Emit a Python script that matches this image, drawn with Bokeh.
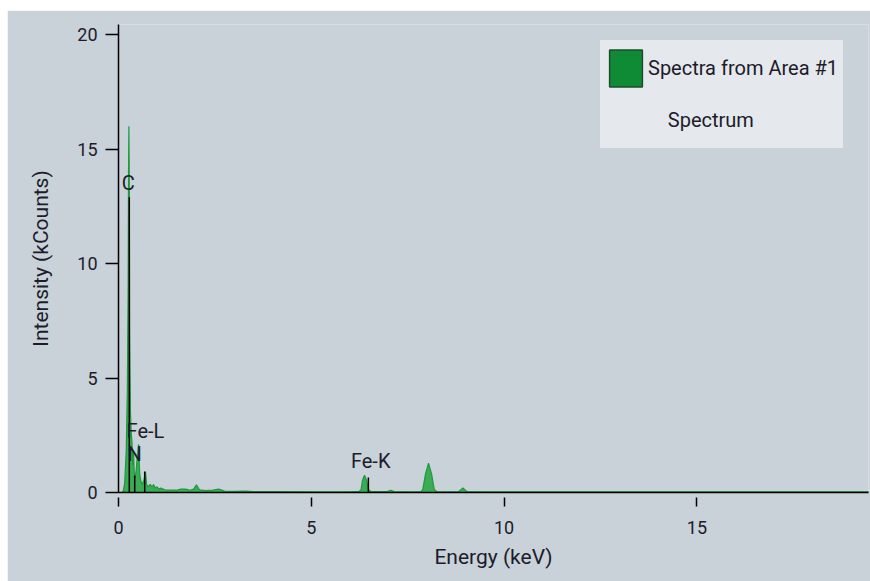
import numpy as np
from bokeh.plotting import figure
from bokeh.models import Range1d, Legend, LegendItem, ColumnDataSource, LabelSet, FixedTicker
from bokeh.core.properties import value
from bokeh.embed import file_html
from bokeh.resources import INLINE

# spectrum values (keV, kCounts)
energy = [0.00, 0.08, 0.12, 0.16, 0.20, 0.23, 0.25, 0.26, 0.27, 0.28, 0.29, 0.31, 0.33, 0.35, 0.37,
          0.39, 0.41, 0.43, 0.46, 0.49, 0.52, 0.55, 0.58, 0.62, 0.66, 0.70, 0.73, 0.77, 0.82, 0.87,
          0.91, 0.95, 1.00, 1.05, 1.10, 1.20, 1.35, 1.50, 1.62, 1.74, 1.86, 1.95, 2.02, 2.10, 2.25,
          2.45, 2.60, 2.75, 3.00, 3.30, 3.50, 4.00, 5.00, 6.00, 6.24, 6.29, 6.33, 6.38, 6.43, 6.48,
          6.55, 6.80, 6.97, 7.06, 7.15, 7.50, 7.84, 7.89, 7.96, 8.04, 8.12, 8.19, 8.26, 8.60, 8.82,
          8.93, 9.04, 9.50, 10.0, 12.0, 15.0, 19.5]
counts = [0.00, 0.00, 0.05, 0.40, 1.80, 4.50, 9.00, 14.0, 16.0, 13.5, 7.00, 3.50, 2.60, 2.20, 1.20,
          1.80, 0.80, 0.60, 1.00, 1.60, 2.10, 0.80, 0.50, 0.35, 0.55, 0.90, 0.35, 0.25, 0.35, 0.25,
          0.35, 0.20, 0.25, 0.15, 0.20, 0.12, 0.10, 0.10, 0.15, 0.15, 0.10, 0.15, 0.33, 0.12, 0.08,
          0.10, 0.15, 0.06, 0.05, 0.06, 0.04, 0.04, 0.03, 0.03, 0.05, 0.12, 0.55, 0.75, 0.55, 0.12,
          0.04, 0.04, 0.04, 0.10, 0.04, 0.03, 0.03, 0.12, 0.80, 1.28, 0.80, 0.12, 0.03, 0.03, 0.04,
          0.20, 0.04, 0.03, 0.03, 0.03, 0.03, 0.03]

# element marker lines
elements = ["C", "N", "Fe-L", "Fe-K"]
element_energy = [0.28, 0.42, 0.68, 6.48]
element_height = [12.9, 0.74, 0.92, 0.65]
label_energy = [0.25, 0.42, 0.70, 6.54]
label_height = [13.0, 1.15, 2.15, 0.85]

x_ticks = [0, 5, 10, 15]
y_ticks = [0, 5, 10, 15, 20]

series_label = "Spectra from Area #1"
sub_label = "Spectrum"

FONT = "Roboto"
TXT = "#1c1c2a"
BG = "#c9d1d9"

p = figure(width=863, height=571, output_backend="svg", toolbar_location=None,
           x_range=Range1d(0, 19.45), y_range=Range1d(0, 20.44),
           min_border_left=111, min_border_right=2, min_border_top=14, min_border_bottom=89)
p.margin = (10, 0, 0, 7)
p.background_fill_color = BG
p.border_fill_color = BG
p.outline_line_color = None
p.xgrid.visible = False
p.ygrid.visible = False

src = ColumnDataSource(dict(e=energy, c=counts, z=[0] * len(energy)))
p.varea(x="e", y1="z", y2="c", source=src, fill_color="#2ba646", fill_alpha=0.9)
p.line(x="e", y="c", source=src, line_color="#1d9a3c", line_width=1.2)

msrc = ColumnDataSource(dict(x=element_energy, y=element_height, y0=[0] * len(elements)))
p.segment(x0="x", y0="y0", x1="x", y1="y", source=msrc, line_color="black", line_width=1.5)

lsrc = ColumnDataSource(dict(x=label_energy, y=label_height, t=elements))
p.add_layout(LabelSet(x="x", y="y", text="t", source=lsrc, text_align="center",
                      text_baseline="bottom", text_font=value(FONT), text_font_size="20px",
                      text_color=TXT))

# legend swatch proxies (NaN position: drawn only in the legend)
proxy = ColumnDataSource(dict(x=np.array([np.nan]), y=np.array([np.nan])))
r1 = p.rect(x="x", y="y", width=1, height=1, source=proxy,
            fill_color="#0f8b36", line_color="#1b4d2a", line_width=1.5)
r2 = p.scatter(x="x", y="y", source=proxy, fill_alpha=0, line_alpha=0)
leg = Legend(items=[LegendItem(label=series_label, renderers=[r1]),
                    LegendItem(label="\u00a0\u00a0\u00a0\u00a0" + sub_label, renderers=[r2])],
             location=(482, 344))
leg.glyph_width = 41
leg.glyph_height = 46
leg.label_standoff = 2
leg.spacing = 6
leg.padding = 5
leg.margin = 0
leg.label_text_font = FONT
leg.label_text_font_size = "20px"
leg.label_text_color = TXT
leg.background_fill_color = "#e5e8ec"
leg.background_fill_alpha = 1
leg.border_line_alpha = 0
p.add_layout(leg)

for ax in (p.xaxis[0], p.yaxis[0]):
    ax.axis_line_color = "black"
    ax.axis_line_width = 1.5
    ax.major_tick_line_color = "black"
    ax.major_tick_line_width = 1.5
    ax.minor_tick_line_color = None
    ax.major_label_text_font = FONT
    ax.major_label_text_font_size = "18px"
    ax.major_label_text_color = TXT
    ax.axis_label_text_font = FONT
    ax.axis_label_text_font_size = "21px"
    ax.axis_label_text_font_style = "normal"
    ax.axis_label_text_color = TXT

p.xaxis.ticker = FixedTicker(ticks=x_ticks)
p.yaxis.ticker = FixedTicker(ticks=y_ticks)
p.xaxis.axis_label = "Energy (keV)"
p.yaxis.axis_label = "Intensity (kCounts)"
p.xaxis.major_tick_in = -5
p.xaxis.major_tick_out = 14
p.xaxis.major_label_standoff = 14
p.xaxis.axis_label_standoff = 8
p.yaxis.major_tick_in = 0
p.yaxis.major_tick_out = 13
p.yaxis.major_label_standoff = 8
p.yaxis.axis_label_standoff = 21

open("out.html", "w").write(file_html(p, INLINE))
